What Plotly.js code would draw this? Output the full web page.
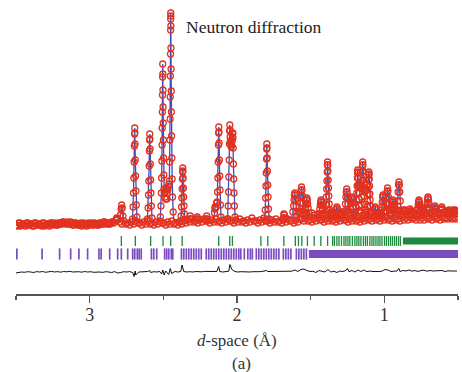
<!DOCTYPE html>
<html>
<head>
<meta charset="utf-8">
<script src="https://cdn.plot.ly/plotly-3.0.1.min.js"></script>
<style>html,body{margin:0;padding:0;background:#fff}#chart{width:462px;height:372px}</style>
</head>
<body>
<div id="chart"></div>
<script>
// ===== Observed data: background band (d in Å, intensity in arbitrary units) =====
const dBgLeftA = [3.503,3.489,3.475,3.462,3.448,3.435,3.421,3.408,3.394,3.380,3.367,3.353,3.340,3.326,3.312,3.299,3.285,3.272,3.258,3.245,3.231,3.217,3.204,3.190,3.177,3.163,3.149,3.136,3.122,3.109,3.095,3.082,3.068,3.054,3.041,3.027,3.014,3.000,2.986,2.973,2.959,2.946,2.932,2.918,2.905,2.891,2.878,2.864,2.850,2.837];
const iBgLeftA = [5,3,6,4,5,3,6,4,5,3,6,4,5,3,6,4,5,3,6,4,5,4,6,5,7,5,7,5,6,4,6,4,5,3,6,4,5,4,6,4,5,4,6,5,7,5,6,5,7,6];
const dBgLeftB = [3.496,3.482,3.469,3.455,3.442,3.428,3.414,3.401,3.387,3.374,3.360,3.346,3.333,3.319,3.306,3.292,3.278,3.265,3.251,3.238,3.224,3.211,3.197,3.183,3.170,3.156,3.143,3.129,3.115,3.102,3.088,3.075,3.061,3.048,3.034,3.020,3.007,2.993,2.980,2.966,2.952,2.939,2.925,2.912,2.898,2.884,2.871,2.857,2.844];
const iBgLeftB = [4,6,3,5,4,6,4,5,3,6,4,5,4,6,3,5,4,6,5,6,4,6,5,7,6,6,5,7,4,6,5,4,6,4,5,3,6,5,4,6,5,4,6,5,7,6,5,6,7];
const dBgMain = [2.823,2.810,2.796,2.783,2.769,2.755,2.742,2.728,2.715,2.701,2.688,2.674,2.660,2.647,2.633,2.620,2.606,2.592,2.579,2.565,2.552,2.538,2.524,2.511,2.497,2.484,2.470,2.457,2.443,2.429,2.416,2.402,2.389,2.375,2.361,2.348,
  2.334,2.321,2.307,2.293,2.280,2.266,2.253,2.239,2.225,2.212,2.198,2.185,2.171,2.157,2.144,2.130,2.117,2.103,2.090,2.076,2.062,2.049,2.035,2.022,2.008,1.995,1.981,1.967,1.954,1.940,1.927,1.913,1.899,1.886,1.872,1.859,1.845,1.832,1.818,1.804,1.791,1.777,1.764,1.750,1.736,1.723,1.709,1.696,1.682,1.668,1.655,1.641,1.628,1.614,1.600,1.587,1.573,
  1.560,1.546,1.533,1.519,1.505,1.492,1.478,1.465,1.451,1.437,1.424,1.410,1.397,1.383,1.370,1.356,1.342,1.329,1.315,1.302,1.288,1.274,1.261,1.247,1.234,1.220,1.206,1.193,1.179,1.166,1.152,1.138,1.125,1.111,1.098,1.084,1.071,1.057,1.043,1.030,1.016,1.003,0.989,0.975,0.962,0.948,0.935,0.921,0.907,0.894,0.880,0.867,0.853,0.840,0.826,0.812,0.799,0.785,0.772,0.758,0.744,0.731,0.717,0.704,0.690,0.676,0.663,0.649,0.636,0.622,0.608,0.595,0.581,0.568,0.554,0.540,0.527,0.513,0.500];
const iBgMain = [9,10,7,5,8,5,6,4,7,5,8,6,6,4,7,5,8,5,6,4,7,5,8,6,6,4,7,5,8,5,6,4,7,5,8,6,
  9,7,10,7,8,6,9,7,10,8,8,6,9,7,10,7,8,6,9,7,10,8,8,6,9,7,10,7,8,6,9,7,11,8,8,6,9,7,11,8,8,6,9,7,10,7,8,6,9,7,10,8,8,6,9,7,10,
  10,8,11,8,9,7,10,8,11,9,9,7,10,8,11,8,9,7,10,8,11,9,9,7,10,8,11,8,9,7,10,8,11,9,10,8,11,9,10,8,11,9,12,9,10,8,11,9,10,8,12,9,11,9,12,10,11,9,12,9,11,9,12,10,11,9,12,10,11,9,12,10,11,10,12,10,11,10,12];
const dBgUpper = [1.594,1.573,1.553,1.533,1.512,1.492,1.471,1.451,1.431,1.410,1.390,1.370,1.349,1.329,1.308,1.288,1.268,1.247,1.227,1.207,1.186,1.166,1.145,1.125,1.105,1.084,1.064,1.043,1.023,1.003,0.982,0.962,0.942,0.921,0.901,0.880,0.860,0.840,0.819,0.799,0.779,0.758,0.738,0.717,0.697,0.677,0.656,0.636,0.615,0.595,0.575,0.554,0.534,0.514];
const iBgUpper = [13,16,14,15,13,16,14,15,13,16,14,15,13,16,14,15,13,16,14,15,13,16,14,15,13,16,14,16,19,17,18,16,19,17,18,16,19,17,18,16,19,17,18,16,19,17,18,16,19,17,18,16,19,17];

// ===== Observed data: Bragg peaks =====
const dPk1 = [2.8165, 2.7908,2.7860,2.7826,2.7792,2.7744,
  2.7092,2.7052,2.7025,2.7004,2.6984,2.6967,2.6953,2.6943,2.6933,2.6919,2.6902,2.6882,2.6861,2.6834,2.6794,
  2.6073,2.6033,2.6006,2.5985,2.5965,2.5948,2.5934,2.5924,2.5914,2.5900,2.5883,2.5863,2.5842,2.5815,2.5775,
  2.5203,2.5162,2.5135,2.5115,2.5098,2.5084,2.5074,2.5064,2.5055,2.5047,2.5040,2.5033,2.5025,2.5016,2.5006,2.4996,2.4982,2.4965,2.4945,2.4918,2.4890,
  2.4864,2.4850,2.4823,2.4783,2.4760,2.4742,2.4701,
  2.4660,2.4619,2.4592,2.4572,2.4555,2.4541,2.4531,2.4521,2.4512,2.4504,2.4501,2.4497,2.4493,2.4490,2.4482,2.4473,2.4463,2.4453,2.4439,2.4422,2.4402,2.4375,2.4334,
  2.3831,2.3791,2.3764,2.3743,2.3723,2.3706,2.3692,2.3682,2.3672,2.3658,2.3641,2.3621,2.3600,2.3573,2.3533];
const iPk1 = [11, 14,20,24,21,13,
  10,22,36,51,67,83,95,101,96,85,69,53,38,24,12,
  10,21,34,48,63,78,89,95,90,80,65,49,36,23,11,
  12,23,36,51,68,84,101,117,134,152,165,155,139,122,106,89,71,54,40,36,32,
  37,30,41,40,30,36,39,
  42,45,48,67,89,110,132,153,175,199,210,216,213,203,181,160,138,117,93,71,50,32,17,
  8,13,22,31,40,50,57,61,58,51,41,32,23,15,9];
const dPk2 = [2.3206,2.3172,2.3138,2.2731,2.2697,2.2663,2.2086,2.2052,2.2018,
  2.1529,2.1502,2.1488,2.1461,2.1420,
  2.1385,2.1345,2.1318,2.1297,2.1277,2.1260,2.1246,2.1236,2.1226,2.1212,2.1195,2.1175,2.1154,2.1127,2.1087,
  2.0638,2.0598,2.0571,2.0550,2.0530,2.0513,2.0499,2.0489,2.0479,2.0465,2.0448,2.0420,2.0390,2.0360,2.0326,2.0309,2.0295,2.0285,2.0275,2.0261,2.0244,2.0224,2.0203,2.0176,2.0136,
  1.8124,1.8084,1.8057,1.8036,1.8016,1.7999,1.7985,1.7975,1.7965,1.7951,1.7934,1.7914,1.7893,1.7866,1.7826,
  1.6861,1.6820,1.6786,1.6752,
  1.6209,1.6161,1.6127,1.6100,1.6073,1.6046,1.6019,1.5985,1.5937,
  1.5754,1.5706,1.5672,1.5645,1.5618,1.5591,1.5564,1.5530,1.5482,
  1.5394,1.5346,1.5312,1.5285,1.5258,1.5231,1.5204,1.5170,1.5122];
const iPk2 = [10,13,10,10,12,10,10,13,10,
  16,20,22,21,22,
  26,27,37,51,67,84,96,102,97,86,69,53,39,24,12,
  10,23,37,52,69,85,98,104,99,92,88,85,82,84,88,92,95,96,91,81,65,50,36,23,12,
  9,19,31,43,56,70,80,85,81,71,58,44,32,20,10,
  11,15,14,11,
  17,23,29,34,36,34,29,23,17,
  18,26,33,39,42,39,33,26,18,
  16,21,25,29,31,29,25,21,16];
const dPk3 = [1.4429,1.4381,1.4347,1.4320,1.4293,1.4266,1.4239,1.4205,1.4157,
  1.4001,1.3961,1.3934,1.3913,1.3893,1.3876,1.3862,1.3852,1.3842,1.3828,1.3811,1.3791,1.3770,1.3743,1.3703,
  1.3641,1.3593,1.3559,1.3525,1.3477,
  1.3302,1.3254,1.3220,1.3186,1.3138,
  1.3030,1.2982,1.2948,1.2914,1.2866,
  1.2690,1.2642,1.2608,1.2581,1.2554,1.2527,1.2500,1.2466,1.2418,
  1.2343,1.2295,1.2261,1.2234,1.2207,1.2180,1.2153,1.2119,1.2071,
  1.1955,1.1915,1.1888,1.1867,1.1847,1.1830,1.1816,1.1806,1.1796,1.1782,1.1765,1.1745,1.1724,1.1697,1.1657,
  1.1740,1.1700,1.1660,1.1620,
  1.1616,1.1576,1.1549,1.1528,1.1508,1.1491,1.1477,1.1467,1.1457,1.1443,1.1426,1.1406,1.1385,1.1358,1.1318,
  1.1300,1.1260,1.1220,1.1180,
  1.1195,1.1155,1.1128,1.1107,1.1087,1.1070,1.1056,1.1046,1.1036,1.1022,1.1005,1.0985,1.0964,1.0937,1.0897,
  1.0700,1.0652,1.0618,1.0584,1.0536,
  1.0448,1.0400,1.0366,1.0332,1.0284,
  1.0223,1.0175,1.0141,1.0114,1.0087,1.0060,1.0033,0.9999,0.9951,
  0.9918,0.9870,0.9836,0.9809,0.9782,0.9755,0.9728,0.9694,0.9646,
  0.9551,0.9503,0.9469,0.9442,0.9415,0.9388,0.9361,0.9327,0.9279,
  0.9144,0.9096,0.9062,0.9035,0.9008,0.8981,0.8954,0.8920,0.8872];
const iPk3 = [15,20,24,27,29,27,24,20,15,
  18,24,32,40,48,57,64,67,64,58,49,41,33,25,19,
  14,16,17,16,14,
  16,20,22,20,16,
  14,16,17,16,14,
  18,25,32,37,40,37,32,25,18,
  16,21,26,30,32,30,26,21,16,
  17,22,29,36,43,51,56,59,57,51,44,36,30,23,18,
  44,42,44,46,
  18,24,32,40,48,57,64,67,64,58,49,41,33,25,19,
  40,38,40,44,
  17,22,28,35,42,49,54,57,55,50,43,35,29,23,17,
  16,20,22,20,16,
  13,15,16,15,13,
  16,22,27,32,34,32,27,22,16,
  18,25,32,38,41,38,32,25,18,
  15,20,24,27,29,27,24,20,15,
  19,28,37,44,47,44,37,28,19];
const dPk4 = [0.8750,0.8702,0.8668,0.8634,0.8586,
  0.8342,0.8294,0.8260,0.8226,0.8178,
  0.8071,0.8023,0.7989,0.7955,0.7907,
  0.7785,0.7737,0.7703,0.7676,0.7649,0.7622,0.7595,0.7561,0.7513,
  0.7459,0.7411,0.7377,0.7343,0.7295,
  0.7173,0.7125,0.7091,0.7064,0.7037,0.7010,0.6983,0.6949,0.6901,
  0.6644,0.6596,0.6562,0.6528,0.6480,
  0.6182,0.6134,0.6100,0.6066,0.6018,
  0.5693,0.5645,0.5611,0.5577,0.5529,
  0.5285,0.5237,0.5203,0.5169,0.5121];
const iPk4 = [15,18,19,18,15,
  15,18,20,18,15,
  14,16,17,16,14,
  15,20,24,27,29,27,24,20,15,
  16,19,21,19,16,
  16,21,26,30,32,30,26,21,16,
  17,21,23,21,17,
  16,20,22,20,16,
  15,18,19,18,15,
  15,18,19,18,15];

// ===== Calculated profile =====
const dCalc = [3.5027,2.8369,2.8165,2.8000,2.7908,2.7826,2.7744,2.7650,2.7120,2.7092,2.7025,2.6984,2.6943,2.6902,2.6861,2.6794,2.6760,2.6100,2.6073,2.6006,2.5965,2.5924,2.5883,2.5842,2.5775,2.5740,2.5240,2.5203,2.5135,2.5098,2.5064,2.5040,2.5016,2.4982,2.4945,2.4864,2.4823,2.4742,2.4660,2.4592,2.4555,2.4521,2.4497,2.4473,2.4439,2.4402,2.4334,2.4280,2.3860,2.3831,2.3764,2.3723,2.3682,2.3641,2.3600,2.3533,2.3480,2.1560,2.1488,2.1420,2.1345,2.1297,2.1236,2.1175,2.1127,2.1087,2.1040,2.0660,2.0638,2.0571,2.0530,2.0489,2.0448,2.0390,2.0326,2.0285,2.0244,2.0203,2.0136,2.0100,1.8150,1.8124,1.8057,1.8016,1.7975,1.7934,1.7893,1.7826,1.7800,1.6861,1.6820,1.6752,1.6240,1.6209,1.6073,1.5937,1.5754,1.5618,1.5482,1.5394,1.5258,1.5122,1.4500,1.4429,1.4293,1.4157,1.4001,1.3934,1.3893,1.3852,1.3811,1.3770,1.3703,1.3559,1.3400,1.3220,1.3050,1.2948,1.2690,1.2554,1.2418,1.2343,1.2207,1.2071,1.1955,1.1847,1.1806,1.1765,1.1700,1.1620,1.1528,1.1467,1.1406,1.1300,1.1220,1.1128,1.1046,1.0985,1.0937,1.0750,1.0618,1.0500,1.0366,1.0223,1.0087,0.9999,0.9918,0.9782,0.9646,0.9551,0.9415,0.9279,0.9144,0.9062,0.9008,0.8954,0.8872,0.8750,0.8668,0.8586,0.8342,0.8260,0.8178,0.7989,0.7785,0.7649,0.7513,0.7377,0.7173,0.7037,0.6901,0.6562,0.6100,0.5611,0.5203,0.4999];
const iCalc = [5,5,9,7,14,24,13,7,7,10,36,67,101,69,38,12,7,8,10,34,63,95,65,36,11,7,8,12,36,68,117,165,122,71,40,37,41,36,42,48,89,153,216,160,93,50,17,9,9,8,22,40,61,41,23,8,8,10,22,22,27,51,102,53,24,12,9,9,10,37,69,104,88,82,88,96,65,36,12,9,9,9,31,56,85,58,32,10,9,11,15,11,12,17,36,17,18,42,18,16,31,16,12,15,29,15,18,32,48,67,49,33,19,17,14,22,16,17,18,40,18,16,32,16,17,43,59,44,42,46,52,67,50,40,40,46,57,40,23,16,22,14,16,16,34,22,18,41,18,15,29,15,19,37,47,37,19,15,19,15,15,20,15,17,15,29,15,21,16,32,16,23,22,19,19,15];

// ===== Difference curve (obs - calc) =====
const dDiff = [3.503,3.482,3.462,3.442,3.421,3.401,3.380,3.360,3.340,3.319,3.299,3.279,3.258,3.238,3.217,3.197,3.177,3.156,3.136,3.115,3.095,3.075,3.054,3.034,3.014,2.993,2.973,2.952,2.932,2.912,2.891,2.871,2.851,2.830,2.810,2.789,2.769,2.749,2.728,2.708,2.698,2.691,2.687,2.667,2.647,2.626,2.606,2.592,2.586,2.565,2.545,2.524,2.511,2.504,2.494,2.484,2.463,2.453,2.443,2.422,2.402,2.382,2.373,2.361,2.341,2.321,2.300,2.280,2.259,2.239,2.219,2.198,2.178,2.158,2.137,2.124,2.117,2.097,2.076,2.056,2.048,2.035,2.015,1.995,1.974,1.954,1.933,1.913,1.893,1.872,1.852,1.832,1.811,1.798,1.791,1.771,1.750,1.730,1.709,1.689,1.669,1.648,1.628,1.607,1.587,1.567,1.546,1.526,1.505,1.485,1.465,1.444,1.424,1.403,1.383,1.363,1.342,1.322,1.302,1.281,1.261,1.251,1.240,1.220,1.200,1.179,1.159,1.139,1.118,1.098,1.077,1.057,1.037,1.016,0.996,0.975,0.955,0.935,0.914,0.901,0.894,0.874,0.853,0.833,0.813,0.792,0.772,0.751,0.731,0.711,0.690,0.670,0.649,0.629,0.609,0.588,0.568,0.547,0.527,0.507];
const iDiff = [-1,-0.5,0,-0.3,0.3,0,-0.5,0.4,0,0.5,-0.3,0.2,0.6,0,0.4,-0.2,0.5,0.2,0.7,0,0.4,0.3,-0.2,0.5,0,0.3,-0.3,0.2,0,-0.4,0.3,0,-0.5,0.4,-1,-0.5,0.3,0,0.4,-0.5,-4.5,1,-3,0,0.3,0,0.5,1.5,-0.5,0.3,0,0.5,-2,2,-3,1,-2.5,3.5,-1.5,0.5,0,0.5,7,0.5,0,0.3,0,0.5,0,0.2,0.6,0.5,0,0.3,0.5,5.5,0.5,0,0.4,0.8,7.5,2.5,0.5,0,0.3,0,0.4,0,0.3,0,0.3,0.5,0.8,1.5,0.5,0.5,0.4,0.8,0.3,0.5,0.8,0.5,0.8,2,0.5,2.5,3,1.5,0.5,0.8,-0.5,1.5,0.5,0,2.5,0,0.8,-0.5,1,0.5,1.5,3.5,0.3,1.5,0,2,0.5,2,0.3,1,0.5,0.3,0.5,0.8,2.5,2,0.5,0.8,1,3.5,0.5,1.5,1,2,0.8,1.5,0.5,1.5,1.8,0.8,1.5,1,1.2,0.8,1.5,0.5,1.2,1,0.8,1];

// ===== Reflection positions =====
const dPhase1 = [2.785,2.690,2.586,2.502,2.450,2.372,2.124,2.049,2.031,1.838,1.791,1.682,1.604,1.583,1.560,1.522,1.476,1.431,1.385,1.351,1.339,1.322,1.308,1.291,1.274,1.261,1.247,1.234,1.217,1.200,1.186,1.173,1.159,1.142,1.128,1.115,1.098,1.084,1.071,1.057,1.043,1.030,1.016,0.999,0.986,0.972,0.958,0.945,0.931,0.918,0.904,0.891];
const dPhase1Band = [0.874,0.500];
const dPhase2 = [3.510,3.494,3.323,3.204,3.129,3.073,3.014,2.937,2.922,2.864,2.810,2.785,2.742,2.708,2.694,2.677,2.664,2.650,2.581,2.565,2.545,2.491,2.477,2.463,2.446,2.436,2.377,2.361,2.344,2.3274,2.3105,2.2935,2.2765,2.2595,2.2425,2.2086,2.1916,2.1746,2.1576,2.1406,2.1236,2.1066,2.0896,2.0726,2.0557,2.0387,2.0217,2.0047,1.9878,1.9742,1.9504,1.9266,1.9096,1.8960,1.8689,1.8519,1.8349,1.8179,1.8009,1.7839,1.7669,1.7499,1.7330,1.7160,1.6854,1.6684,1.6514,1.6345,1.5971,1.5801,1.5631,1.5462,1.5292];
const dPhase2Band = [1.512,0.500];

// ===== Text =====
const xTickVals = [3,2,1];
const xTickText = ['3','2','1'];
const xMinorVals = [3.5,2.5,1.5,0.5];
const titleText = 'Neutron diffraction';
const xTitleText = '<i>d</i>-space (Å)';
const panelText = '(a)';

const dObs = [].concat(dBgLeftA,dBgLeftB,dBgMain,dBgUpper,dPk1,dPk2,dPk3,dPk4);
const iObs = [].concat(iBgLeftA,iBgLeftB,iBgMain,iBgUpper,iPk1,iPk2,iPk3,iPk4);

const phase1Level = -12, phase2Level = -25, diffOffset = -43;
const RED = '#e2321f', BLUE = '#3b4cc0', GREEN = '#1d8a3d', PURPLE = '#7a4cc0';

const traces = [
  {x: dCalc, y: iCalc, type: 'scatter', mode: 'lines', line: {color: BLUE, width: 1.3}, hoverinfo: 'skip'},
  {x: dObs, y: iObs, type: 'scatter', mode: 'markers',
   marker: {symbol: 'circle-open', size: 6, color: RED, line: {color: RED, width: 1.3}}, hoverinfo: 'skip'},
  {x: dPhase1, y: dPhase1.map(() => phase1Level), type: 'scatter', mode: 'markers', cliponaxis: false,
   marker: {symbol: 'line-ns', size: 7, color: GREEN, line: {color: GREEN, width: 1.3}}},
  {x: dPhase1Band, y: dPhase1Band.map(() => phase1Level), type: 'scatter', mode: 'lines',
   line: {color: GREEN, width: 7}},
  {x: dPhase2, y: dPhase2.map(() => phase2Level), type: 'scatter', mode: 'markers', cliponaxis: false,
   marker: {symbol: 'line-ns', size: 8, color: PURPLE, line: {color: PURPLE, width: 1.7}}},
  {x: dPhase2Band, y: dPhase2Band.map(() => phase2Level), type: 'scatter', mode: 'lines',
   line: {color: PURPLE, width: 8}},
  {x: dDiff, y: iDiff.map(v => v + diffOffset), type: 'scatter', mode: 'lines',
   line: {color: '#111', width: 1}}
];

const serif = 'Liberation Serif, Times New Roman, serif';
const layout = {
  width: 462, height: 372,
  margin: {l: 16, r: 4, t: 0, b: 78, pad: 0},
  paper_bgcolor: '#fff', plot_bgcolor: '#fff',
  showlegend: false,
  xaxis: {
    range: [3.5, 0.5], showgrid: false, zeroline: false,
    showline: true, linecolor: '#555', linewidth: 1.6,
    tickmode: 'array', tickvals: xTickVals, ticktext: xTickText,
    ticks: 'outside', ticklen: 7, tickwidth: 1.6, tickcolor: '#555',
    ticklabelstandoff: -3,
    tickfont: {family: serif, size: 18, color: '#333'},
    minor: {tickmode: 'array', tickvals: xMinorVals, ticks: 'outside', ticklen: 4, tickwidth: 1.4, tickcolor: '#555', showgrid: false}
  },
  yaxis: {range: [-65, 229], visible: false, fixedrange: true},
  annotations: [
    {text: titleText, xref: 'paper', yref: 'paper', x: 0.381, y: 0.908, xanchor: 'left', yanchor: 'middle',
     showarrow: false, font: {family: serif, size: 17.5, color: '#222'}},
    {text: xTitleText, xref: 'paper', yref: 'paper', x: 0.5, y: -0.1565, xanchor: 'center', yanchor: 'middle',
     showarrow: false, font: {family: serif, size: 17, color: '#333'}},
    {text: panelText, xref: 'paper', yref: 'paper', x: 0.511, y: -0.238, xanchor: 'center', yanchor: 'middle',
     showarrow: false, font: {family: serif, size: 17, color: '#333'}}
  ]
};

Plotly.newPlot('chart', traces, layout, {displayModeBar: false, staticPlot: true});
</script>
</body>
</html>
